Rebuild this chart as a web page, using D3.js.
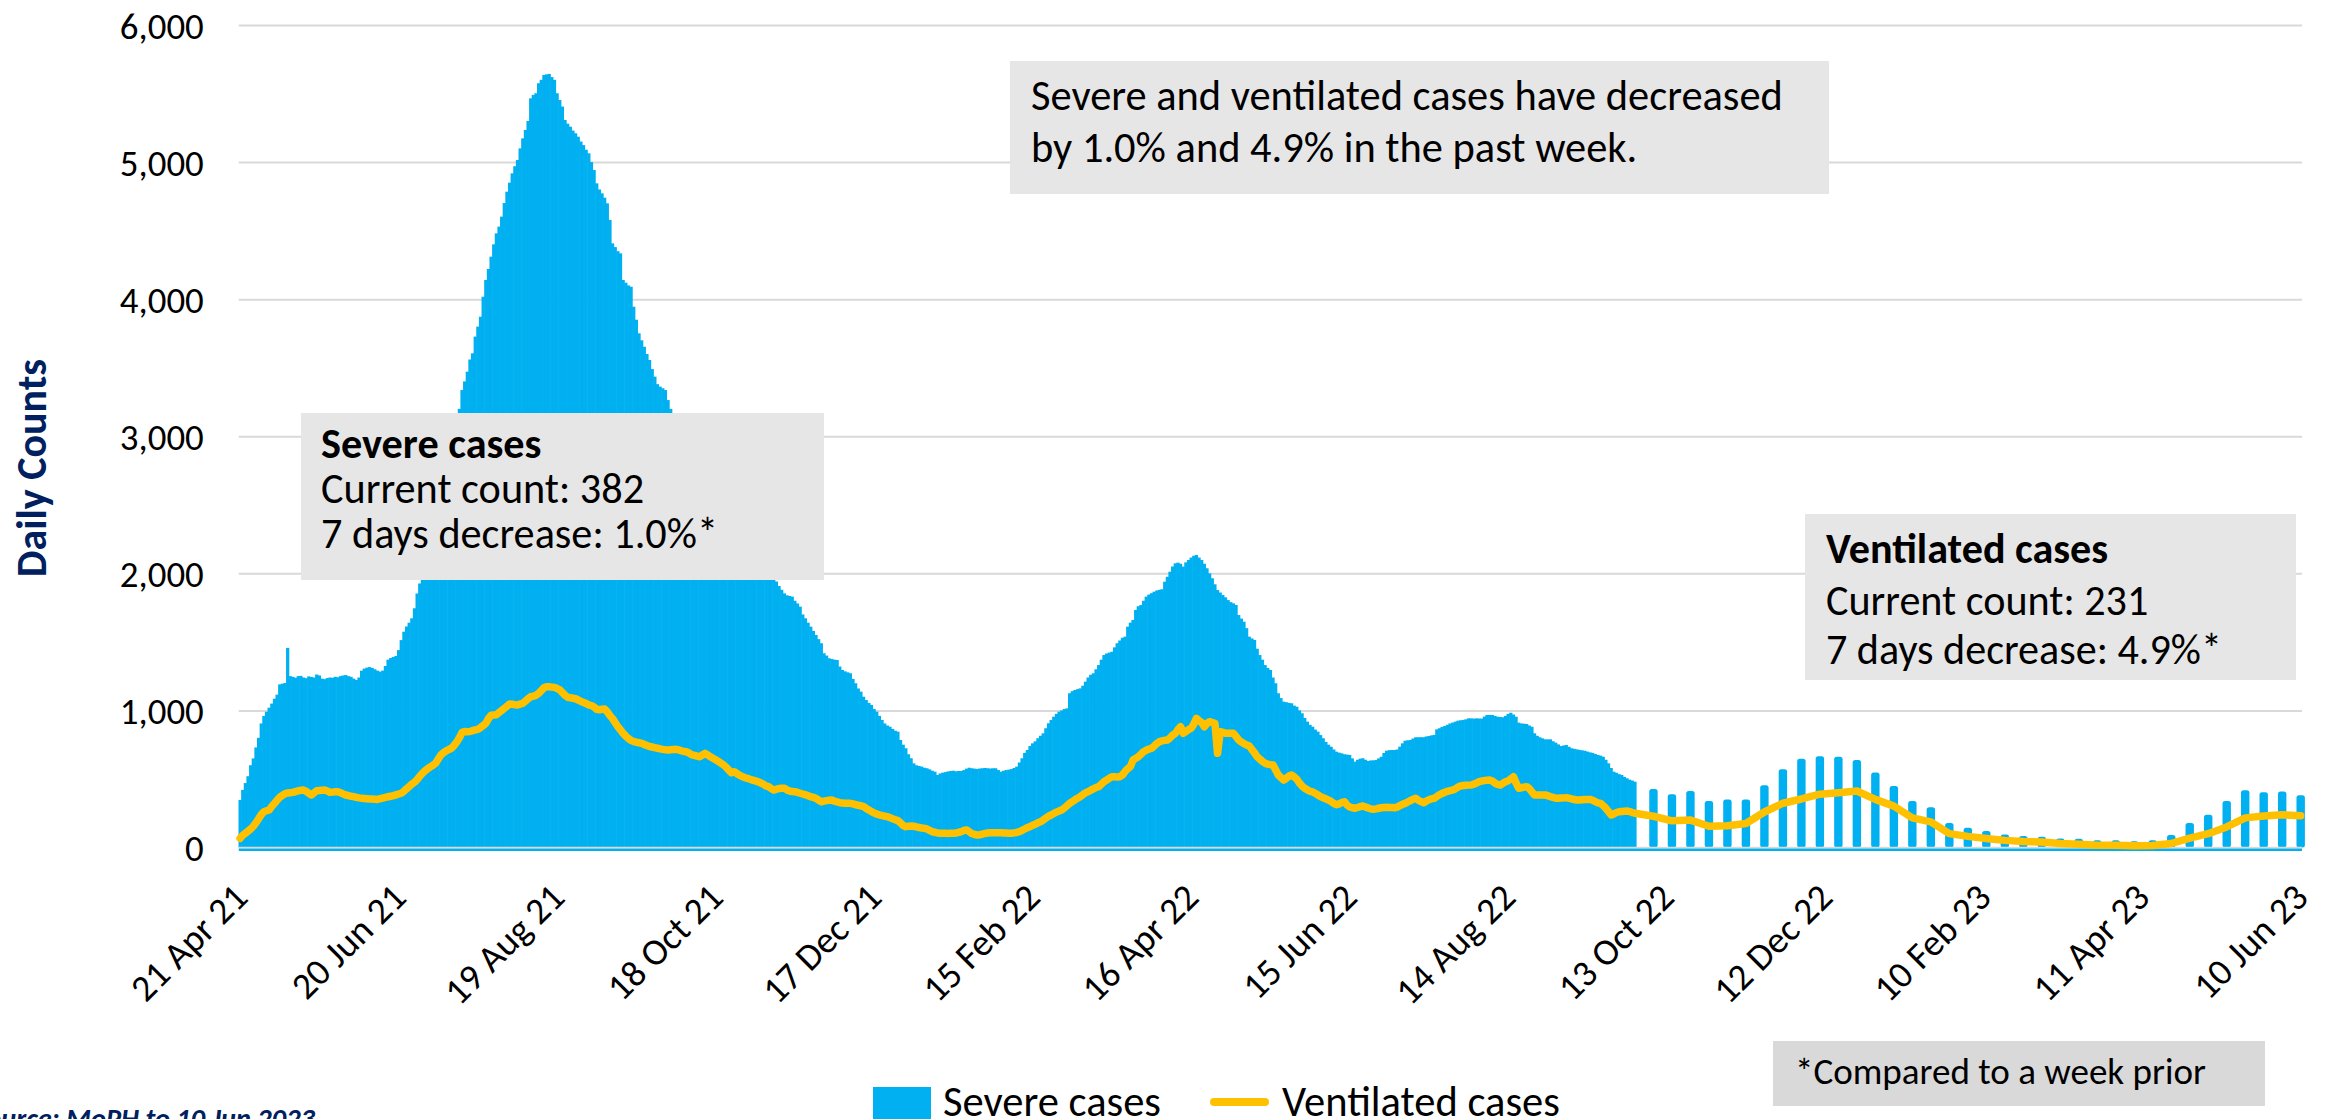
<!DOCTYPE html>
<html>
<head>
<meta charset="utf-8">
<script src="https://cdn.jsdelivr.net/npm/d3@7"></script>
<style>
  body { margin: 0; background: #fff; }
  svg text { font-family: Calibri, Carlito, Lato, sans-serif; fill: #000; }
</style>
</head>
<body>
<svg id="chart" width="2328" height="1119"></svg>
<script>
// daily counts from 21 Apr 2021 to 1 Oct 2022
const firstDay = '2021-04-21';
const severeDaily = [
  347, 420, 470, 520, 600, 650, 730, 800, 905, 960,
  990, 1020, 1050, 1085, 1115, 1190, 1195, 1200, 1456, 1250,
  1245, 1238, 1250, 1252, 1240, 1235, 1248, 1244, 1240, 1262,
  1255, 1232, 1228, 1236, 1240, 1238, 1245, 1242, 1250, 1255,
  1258, 1250, 1245, 1232, 1222, 1240, 1290, 1305, 1312, 1316,
  1310, 1300, 1290, 1283, 1290, 1324, 1370, 1382, 1390, 1397,
  1440, 1513, 1574, 1612, 1640, 1672, 1745, 1853, 1926, 2010,
  2085, 2150, 2235, 2320, 2395, 2480, 2570, 2640, 2715, 2810,
  2905, 2990, 3095, 3200, 3337, 3400, 3471, 3560, 3605, 3727,
  3800, 3872, 4018, 4140, 4220, 4310, 4400, 4480, 4529, 4602,
  4701, 4784, 4850, 4918, 4970, 5015, 5100, 5173, 5234, 5300,
  5465, 5490, 5502, 5575, 5600, 5635, 5640, 5643, 5620, 5600,
  5502, 5453, 5405, 5307, 5280, 5258, 5230, 5210, 5185, 5150,
  5124, 5090, 5064, 5000, 4942, 4845, 4800, 4772, 4740, 4699,
  4578, 4407, 4380, 4350, 4334, 4140, 4120, 4100, 4091, 3945,
  3850, 3751, 3700, 3653, 3600, 3556, 3490, 3435, 3380, 3362,
  3350, 3337, 3264, 3200, 3155, 3115, 3090, 3050, 3025, 2985,
  2950, 2925, 2880, 2855, 2815, 2790, 2745, 2725, 2680, 2655,
  2615, 2590, 2555, 2520, 2495, 2455, 2430, 2395, 2360, 2335,
  2300, 2265, 2240, 2200, 2175, 2140, 2105, 2080, 2050, 2025,
  2000, 1980, 1960, 1940, 1908, 1880, 1854, 1840, 1835, 1830,
  1800, 1780, 1757, 1700, 1672, 1640, 1611, 1580, 1550, 1520,
  1490, 1417, 1400, 1380, 1375, 1370, 1368, 1320, 1295, 1285,
  1278, 1271, 1230, 1198, 1160, 1137, 1100, 1076, 1055, 1040,
  1010, 991, 960, 930, 905, 890, 881, 865, 852, 845,
  784, 750, 724, 680, 651, 614, 600, 595, 590, 582,
  578, 570, 560, 553, 529, 540, 546, 550, 555, 558,
  560, 556, 558, 558, 565, 575, 582, 578, 575, 573,
  576, 578, 580, 578, 576, 578, 578, 565, 553, 560,
  565, 568, 572, 580, 590, 620, 651, 690, 711, 740,
  760, 775, 797, 815, 833, 870, 906, 930, 954, 975,
  991, 1000, 1010, 1015, 1125, 1140, 1149, 1155, 1161, 1180,
  1210, 1240, 1260, 1271, 1300, 1331, 1370, 1404, 1415, 1422,
  1428, 1460, 1490, 1510, 1530, 1538, 1611, 1640, 1660, 1733,
  1760, 1769, 1800, 1830, 1845, 1855, 1866, 1875, 1880, 1884,
  1939, 1975, 2012, 2050, 2073, 2078, 2070, 2049, 2080, 2097,
  2115, 2128, 2134, 2115, 2097, 2070, 2037, 2000, 1964, 1920,
  1878, 1860, 1842, 1825, 1805, 1790, 1781, 1769, 1696, 1670,
  1647, 1600, 1538, 1525, 1514, 1450, 1404, 1370, 1331, 1310,
  1295, 1240, 1198, 1125, 1090, 1064, 1060, 1055, 1052, 1035,
  1027, 1000, 979, 945, 918, 895, 881, 860, 845, 820,
  797, 770, 750, 735, 715, 699, 692, 687, 680, 678,
  675, 650, 626, 640, 648, 651, 640, 631, 635, 636,
  638, 650, 662, 690, 706, 710, 711, 711, 715, 735,
  760, 779, 782, 784, 795, 804, 804, 805, 804, 810,
  813, 818, 821, 862, 870, 880, 886, 895, 905, 911,
  918, 925, 928, 930, 935, 942, 942, 940, 942, 941,
  940, 955, 967, 967, 967, 960, 954, 952, 950, 960,
  975, 983, 970, 954, 911, 905, 903, 901, 890, 881,
  833, 815, 804, 796, 789, 789, 789, 775, 765, 752,
  740, 744, 748, 735, 724, 720, 716, 712, 709, 706,
  700, 694, 690, 682, 675, 670, 662, 640, 614, 580,
  553, 545, 535, 529, 515, 505, 495, 488, 480
];
const ventilatedDaily = [
  67, 90, 104, 120, 135, 155, 180, 210, 240, 261,
  268, 274, 300, 322, 345, 366, 380, 392, 398, 400,
  402, 408, 414, 417, 419, 410, 395, 383, 400, 414,
  416, 418, 419, 412, 402, 404, 406, 407, 400, 390,
  383, 378, 374, 371, 366, 362, 360, 358, 356, 354,
  353, 352, 351, 356, 361, 366, 370, 374, 378, 384,
  390, 396, 410, 428, 445, 462, 476, 495, 520, 541,
  560, 575, 588, 600, 614, 645, 675, 692, 705, 715,
  724, 745, 770, 800, 840, 846, 845, 846, 852, 858,
  862, 875, 890, 906, 940, 965, 967, 968, 985, 1000,
  1015, 1030, 1047, 1045, 1042, 1040, 1046, 1052, 1068, 1085,
  1100, 1104, 1110, 1125, 1145, 1165, 1173, 1172, 1170, 1168,
  1160, 1150, 1130, 1110, 1096, 1092, 1089, 1085, 1076, 1066,
  1058, 1050, 1040, 1035, 1025, 1008, 1005, 1008, 1010, 990,
  962, 940, 910, 881, 858, 832, 812, 795, 780, 773,
  768, 764, 760, 752, 744, 737, 733, 728, 724, 720,
  716, 713, 711, 713, 715, 716, 712, 706, 700, 698,
  688, 676, 672, 666, 662, 675, 687, 675, 662, 651,
  640, 628, 615, 602, 585, 565, 545, 553, 540, 528,
  518, 510, 505, 498, 492, 486, 480, 472, 462, 450,
  444, 430, 419, 425, 430, 432, 432, 420, 412, 408,
  407, 402, 396, 390, 385, 378, 370, 366, 358, 345,
  334, 338, 342, 345, 346, 338, 332, 327, 325, 323,
  322, 322, 318, 312, 308, 305, 298, 285, 274, 262,
  252, 244, 238, 233, 228, 225, 218, 210, 203, 196,
  180, 160, 152, 155, 157, 155, 150, 146, 142, 140,
  135, 125, 115, 111, 106, 104, 104, 104, 103, 104,
  104, 106, 110, 116, 124, 128, 115, 102, 95, 91,
  93, 98, 103, 106, 108, 108, 108, 107, 108, 106,
  105, 104, 104, 107, 110, 115, 125, 135, 145, 152,
  162, 170, 180, 188, 200, 215, 228, 237, 248, 258,
  266, 274, 288, 305, 322, 335, 348, 360, 371, 385,
  398, 407, 418, 428, 438, 444, 462, 480, 492, 505,
  516, 516, 515, 516, 530, 555, 575, 590, 638, 650,
  662, 680, 699, 710, 718, 724, 740, 758, 772, 778,
  782, 784, 800, 820, 833, 860, 881, 833, 845, 860,
  870, 900, 942, 925, 911, 881, 905, 918, 912, 906,
  687, 845, 840, 833, 833, 834, 833, 810, 784, 770,
  758, 748, 740, 715, 690, 662, 645, 628, 614, 608,
  604, 602, 565, 529, 510, 492, 505, 520, 529, 515,
  498, 470, 448, 432, 420, 410, 405, 395, 383, 371,
  362, 355, 346, 335, 322, 312, 318, 328, 334, 310,
  296, 290, 286, 292, 298, 303, 296, 288, 282, 279,
  282, 286, 290, 292, 293, 292, 291, 290, 295, 305,
  315, 322, 332, 342, 352, 359, 345, 335, 327, 338,
  348, 355, 359, 372, 385, 395, 402, 410, 415, 419,
  428, 440, 449, 452, 454, 455, 456, 462, 470, 480,
  485, 488, 490, 492, 485, 470, 460, 456, 468, 480,
  487, 500, 516, 470, 432, 436, 440, 444, 430, 405,
  383, 383, 383, 383, 383, 378, 371, 365, 360, 359,
  361, 362, 363, 360, 355, 350, 347, 346, 348, 350,
  351, 351, 345, 335, 326, 322, 305, 286, 262, 237,
  245, 255, 261, 263, 265, 266, 262, 255, 250
];

// weekly counts from 8 Oct 2022 to 10 Jun 2023
const firstWeek = '2022-10-08';
const severeWeekly = [
  426, 389, 412, 340, 351, 351, 455, 570, 648, 665, 662, 639,
  547, 449, 340, 294, 179, 144, 121, 95, 84, 78, 66, 63,
  52, 52, 46, 52, 92, 179, 239, 340, 418, 403, 409, 382
];
const ventilatedWeekly = [
  228, 195, 200, 155, 158, 175, 259, 323, 354, 389, 400, 412,
  351, 302, 216, 187, 101, 81, 66, 52, 43, 40, 29, 23,
  17, 17, 12, 14, 29, 69, 101, 150, 216, 230, 239, 231
];

const tickLabels = ['21 Apr 21', '20 Jun 21', '19 Aug 21', '18 Oct 21', '17 Dec 21', '15 Feb 22',
  '16 Apr 22', '15 Jun 22', '14 Aug 22', '13 Oct 22', '12 Dec 22', '10 Feb 23', '11 Apr 23', '10 Jun 23'];
const yTicks = [0, 1000, 2000, 3000, 4000, 5000, 6000];

const noteLines = ['Severe and ventilated cases have decreased', 'by 1.0% and 4.9% in the past week.'];
const severeLines = ['Severe cases', 'Current count: 382', '7 days decrease: 1.0%*'];
const ventLines = ['Ventilated cases', 'Current count: 231', '7 days decrease: 4.9%*'];

const blue = '#00B0F0', gold = '#FFC000', navy = '#002060';

const svg = d3.select('#chart');
const plot = {left: 238.8, right: 2302, top: 25, bottom: 847.5};

const parseDay = d3.utcParse('%Y-%m-%d');
const parseTick = d3.utcParse('%d %b %y');
const tickDates = tickLabels.map(parseTick);
const start = parseDay(firstDay);

const daily = severeDaily.map((v, i) => ({date: d3.utcDay.offset(start, i), severe: v, vent: ventilatedDaily[i]}));
const weekly = severeWeekly.map((v, i) => ({date: d3.utcDay.offset(parseDay(firstWeek), 7 * i), severe: v, vent: ventilatedWeekly[i]}));

const x = d3.scaleUtc()
  .domain([d3.utcHour.offset(start, -12), d3.utcHour.offset(tickDates[tickDates.length - 1], 12)])
  .range([plot.left, plot.right]);
const y = d3.scaleLinear().domain([0, 6000]).range([plot.bottom, plot.top]);
const dayW = x(d3.utcDay.offset(start, 1)) - x(start);

// scale a font size so that one text gets the width it has in the picture
function fitSize(node, size, target) {
  return size * target / node.getComputedTextLength();
}

// gridlines + y labels
const yAxis = svg.append('g')
  .attr('transform', `translate(${plot.left},0)`)
  .call(d3.axisLeft(y).tickValues(yTicks).tickFormat(d3.format(','))
    .tickSize(-(plot.right - plot.left)).tickPadding(35));
yAxis.select('.domain').remove();
yAxis.selectAll('line').attr('stroke', '#d9d9d9').attr('stroke-width', 2);
const yText = yAxis.selectAll('text').style('font-size', '33px').attr('dy', '0.36em');
yText.style('font-size', fitSize(yText.nodes()[yText.size() - 1], 33, 84) + 'px');

// bars
svg.append('g').selectAll('rect').data(daily).join('rect')
  .attr('x', d => x(d.date) - dayW / 2 - 0.3)
  .attr('width', dayW + 0.6)
  .attr('y', d => y(d.severe))
  .attr('height', d => y(0) - y(d.severe))
  .attr('fill', blue);

svg.append('g').selectAll('rect').data(weekly).join('rect')
  .attr('x', d => x(d.date) - 4.2)
  .attr('width', 8.4)
  .attr('y', d => y(d.severe))
  .attr('height', d => y(0) - y(d.severe))
  .attr('rx', 2.5)
  .attr('fill', blue);

// baseline
svg.append('line')
  .attr('x1', plot.left).attr('x2', plot.right)
  .attr('y1', y(0) + 2.2).attr('y2', y(0) + 2.2)
  .attr('stroke', blue).attr('stroke-width', 2.4);
svg.append('line')
  .attr('x1', plot.left).attr('x2', plot.right)
  .attr('y1', y(0)).attr('y2', y(0))
  .attr('stroke', '#d9d9d9').attr('stroke-width', 1.6);

// ventilated line
const line = d3.line().x(d => x(d.date)).y(d => y(d.vent));
svg.append('path')
  .datum(daily.concat(weekly))
  .attr('d', line)
  .attr('fill', 'none')
  .attr('stroke', gold)
  .attr('stroke-width', 7.5)
  .attr('stroke-linejoin', 'round')
  .attr('stroke-linecap', 'round');

// x labels
const xAxis = svg.append('g')
  .attr('transform', `translate(0,${plot.bottom})`)
  .call(d3.axisBottom(x).tickValues(tickDates).tickSize(0).tickFormat((d, i) => tickLabels[i]));
xAxis.select('.domain').remove();
const xText = xAxis.selectAll('text')
  .attr('x', 0).attr('y', 0).attr('dy', 0)
  .attr('text-anchor', 'end')
  .attr('transform', 'translate(9,52) rotate(-45)')
  .style('font-size', '33px');
xText.style('font-size', fitSize(xText.nodes()[0], 33, 147) + 'px');

// y title
const yTitle = svg.append('text')
  .attr('transform', 'translate(46,468) rotate(-90)')
  .attr('text-anchor', 'middle')
  .style('font-size', '38px').style('font-weight', 'bold').style('fill', navy)
  .text('Daily Counts');
yTitle.style('font-size', fitSize(yTitle.node(), 38, 218) + 'px');

function infoBox(box, lines, textX, baselines, boldFirst, refIndex, refWidth, fill) {
  svg.append('rect')
    .attr('x', box[0]).attr('y', box[1]).attr('width', box[2]).attr('height', box[3])
    .attr('fill', fill);
  const texts = svg.append('g').selectAll('text').data(lines).join('text')
    .attr('x', textX)
    .attr('y', (d, i) => baselines[i])
    .style('font-size', '36px')
    .style('font-weight', (d, i) => boldFirst && i === 0 ? 'bold' : 'normal')
    .text(d => d);
  texts.style('font-size', fitSize(texts.nodes()[refIndex], 36, refWidth) + 'px');
}

infoBox([1010, 61, 819, 133], noteLines, 1031, [110, 162], false, 0, 752, '#e7e6e6');
infoBox([301, 413, 523, 167], severeLines, 321, [458, 503, 548], true, 2, 397, '#e7e6e6');
infoBox([1805, 514, 491, 166], ventLines, 1826, [563, 615, 664], true, 2, 396, '#e7e6e6');
infoBox([1773, 1041, 492, 65], ['*Compared to a week prior'], 1795, [1084], false, 0, 411, '#d9d9d9');

// legend
svg.append('rect').attr('x', 873).attr('y', 1087).attr('width', 58).attr('height', 45).attr('fill', blue);
svg.append('line').attr('x1', 1214).attr('x2', 1265).attr('y1', 1102).attr('y2', 1102)
  .attr('stroke', gold).attr('stroke-width', 8).attr('stroke-linecap', 'round');
const legendText = svg.append('g').selectAll('text')
  .data([{t: 'Severe cases', x: 943}, {t: 'Ventilated cases', x: 1282}])
  .join('text')
  .attr('x', d => d.x).attr('y', 1116)
  .style('font-size', '40px')
  .text(d => d.t);
legendText.style('font-size', fitSize(legendText.nodes()[1], 40, 278) + 'px');

// source (cut at the page edge)
const source = svg.append('text')
  .attr('x', 315).attr('y', 1128)
  .attr('text-anchor', 'end')
  .style('font-size', '25px').style('font-weight', 'bold').style('font-style', 'italic').style('fill', navy)
  .text('Source: MoPH to 10 Jun 2023');
source.style('font-size', fitSize(source.node(), 25, 342) + 'px');
</script>
</body>
</html>
